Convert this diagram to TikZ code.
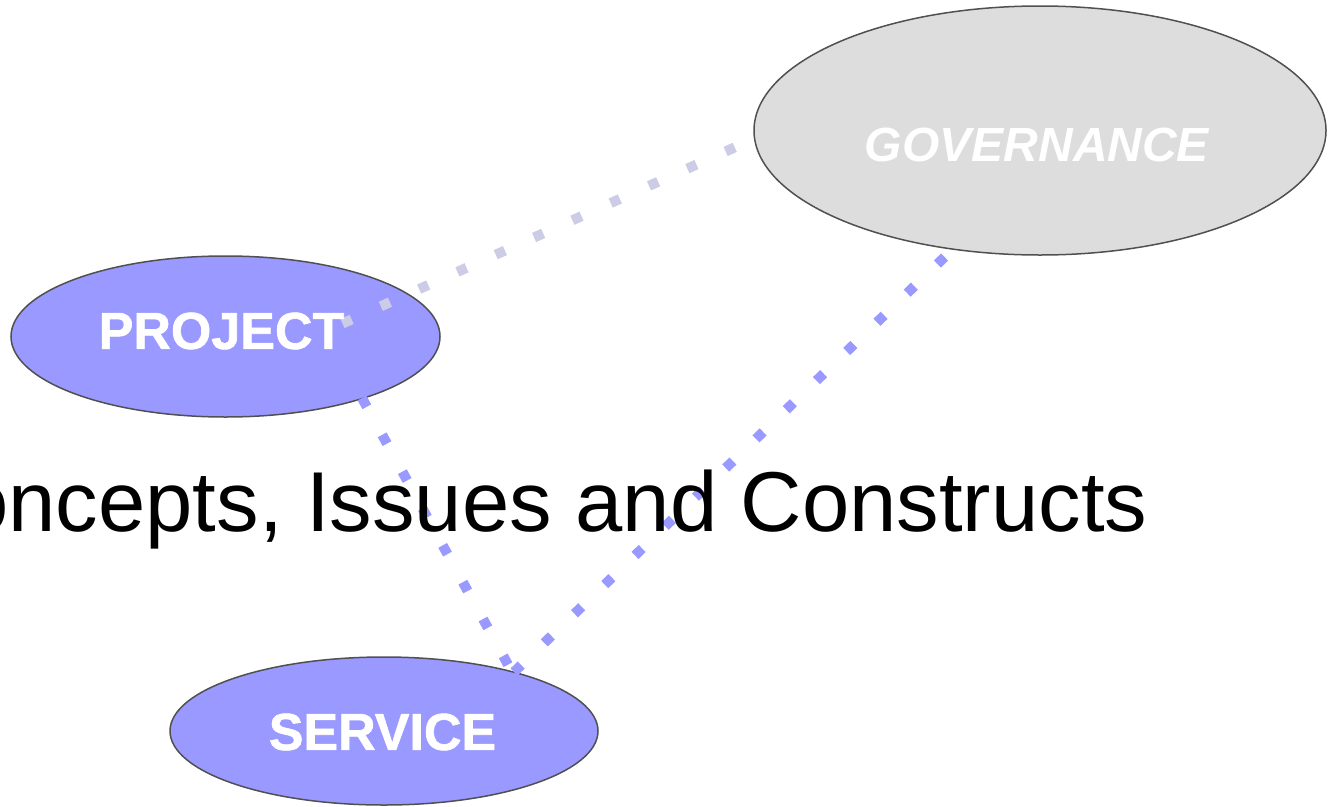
\documentclass[tikz,border=0pt]{standalone}
\usepackage{fontspec}
\setmainfont{Liberation Sans}
\newfontface\labelface{Liberation Sans Bold}[FakeBold=1.2]
\usetikzlibrary{shapes.geometric,calc}
\definecolor{lav}{HTML}{9999FF}
\definecolor{pale}{HTML}{CCCCE6}
\definecolor{govfill}{HTML}{DDDDDD}
\definecolor{edgegray}{HTML}{505050}
\begin{document}
\begin{tikzpicture}[x=1pt,y=-1pt,
  oval/.style={ellipse, draw=edgegray, line width=1.5pt, inner sep=0pt},
  link/.style={line width=10pt, dash pattern=on 10pt off 32pt},
  lbl/.style={text=white, inner sep=0pt, font=\fontsize{52}{52}\labelface}]
\useasboundingbox (0,0) rectangle (1332,806);
\clip (0,0) rectangle (1332,806);
% ellipses
\node[oval, fill=lav, minimum width=429pt, minimum height=161pt] (proj) at (225.5,336.5) {};
\node[oval, fill=lav, minimum width=428pt, minimum height=148pt] (svc) at (384,731) {};
\node[oval, fill=govfill, minimum width=572pt, minimum height=249pt] (gov) at (1040,130.5) {};
% connector ends
\coordinate (p1) at ($(proj.center)+(117,-13)$);
\coordinate (g1) at ($(gov.center)+(-300,14.5)$);
\coordinate (p2) at ($(proj.center)+(136.5,61.5)$);
\coordinate (s2) at ($(svc.center)+(128,-59)$);
\coordinate (s3) at ($(svc.center)+(130,-59)$);
\coordinate (g3) at ($(gov.center)+(-86,117.5)$);
% connectors
\draw[link, pale] (p1) -- (g1);
\draw[link, lav] (p2) -- (s2);
\draw[link, lav] (s3) -- (g3);
% title
\node[anchor=base east, inner sep=0pt, font=\fontsize{85}{85}\selectfont] (title) at (1147.5,531) {oncepts, Issues and Constructs};
% labels
\node[lbl] (projtxt) at (221.5,331) {PROJECT};
\node[lbl] (svctxt) at (382.5,732) {SERVICE};
\node[lbl, font=\fontsize{48}{48}\selectfont\bfseries\itshape] (govtxt) at (1037,145) {GOVERNANCE};
\end{tikzpicture}
\end{document}
